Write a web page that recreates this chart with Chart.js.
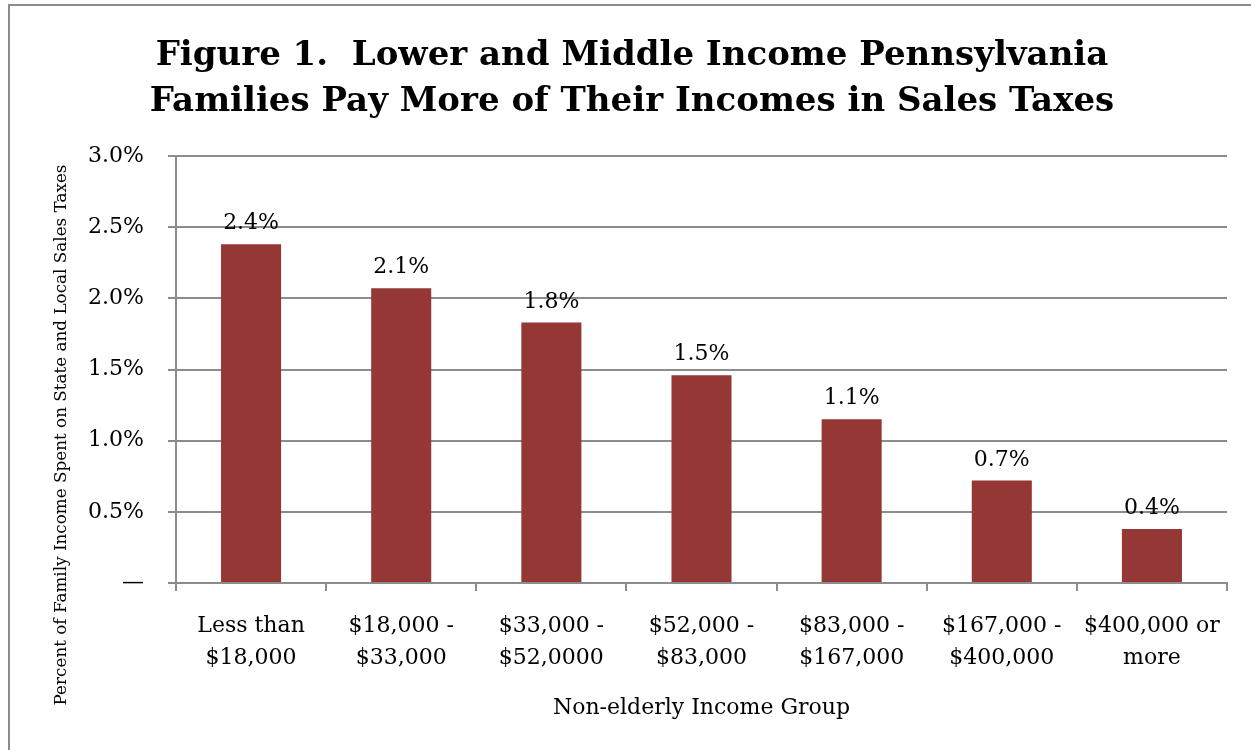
<!DOCTYPE html>
<html>
<head>
<meta charset="utf-8">
<script src="https://cdn.jsdelivr.net/npm/chart.js@4.4.1/dist/chart.umd.min.js"></script>
<style>
  html, body { margin: 0; padding: 0; background: #fff; }
  #wrap { width: 1251px; height: 750px; }
</style>
</head>
<body>
<div id="wrap"><canvas id="salesTaxChart"></canvas></div>
<script>
// data
const incomeGroups = [
    ['Less than', '$18,000'],
    ['$18,000 -', '$33,000'],
    ['$33,000 -', '$52,0000'],
    ['$52,000 -', '$83,000'],
    ['$83,000 -', '$167,000'],
    ['$167,000 -', '$400,000'],
    ['$400,000 or', 'more']
];
const salesTaxShare = [2.38, 2.07, 1.83, 1.46, 1.15, 0.72, 0.38];
const titleLines = ['Figure 1.  Lower and Middle Income Pennsylvania', 'Families Pay More of Their Incomes in Sales Taxes'];
const yAxisTitle = 'Percent of Family Income Spent on State and Local Sales Taxes';
const xAxisTitle = 'Non-elderly Income Group';

const serif = "'DejaVu Serif', serif";

// gray frame around the whole figure
const framePlugin = {
    id: 'frame',
    beforeDraw(chart) {
        const ctx = chart.ctx;
        ctx.save();
        ctx.fillStyle = '#fff';
        ctx.fillRect(0, 0, chart.width, chart.height);
        ctx.strokeStyle = '#8c8c8c';
        ctx.lineWidth = 2;
        ctx.strokeRect(9, 5, chart.width + 20, chart.height + 20);
        ctx.restore();
    }
};

// title, value labels above the bars, rotated y title
const labelPlugin = {
    id: 'barLabels',
    afterDatasetsDraw(chart) {
        const ctx = chart.ctx;
        const meta = chart.getDatasetMeta(0);
        ctx.save();
        ctx.fillStyle = '#000';
        ctx.textAlign = 'center';
        ctx.textBaseline = 'alphabetic';

        ctx.font = 'bold 34px ' + serif;
        ctx.fillText(titleLines[0], 632, 65);
        ctx.fillText(titleLines[1], 632, 111);

        ctx.font = '22px ' + serif;
        meta.data.forEach((bar, i) => {
            ctx.fillText(salesTaxShare[i].toFixed(1) + '%', bar.x, bar.y - 15);
        });

        ctx.font = '16.8px ' + serif;
        ctx.translate(62, 435);
        ctx.rotate(-Math.PI / 2);
        ctx.textBaseline = 'middle';
        ctx.fillText(yAxisTitle, 0, 0);
        ctx.restore();
    }
};

new Chart(document.getElementById('salesTaxChart'), {
    type: 'bar',
    data: {
        labels: incomeGroups,
        datasets: [{
            data: salesTaxShare,
            backgroundColor: '#953735',
            borderWidth: 0,
            barPercentage: 0.4,
            categoryPercentage: 1.0
        }]
    },
    options: {
        responsive: true,
        maintainAspectRatio: false,
        animation: false,
        layout: { padding: { top: 156, right: 24, bottom: 0, left: 0 } },
        plugins: {
            legend: { display: false },
            tooltip: { enabled: false },
            title: { display: false }
        },
        scales: {
            x: {
                grid: {
                    offset: true,
                    drawOnChartArea: false,
                    color: '#8c8c8c',
                    tickLength: 8,
                    lineWidth: 2
                },
                border: { color: '#8c8c8c', width: 2 },
                ticks: {
                    color: '#000',
                    font: { family: serif, size: 22, lineHeight: 1.45 },
                    padding: 19,
                    maxRotation: 0,
                    autoSkip: false
                },
                title: {
                    display: true,
                    text: xAxisTitle,
                    color: '#000',
                    font: { family: serif, size: 22 },
                    padding: { top: 10, bottom: 29 }
                },
                afterFit(scale) { scale.height = 167; }
            },
            y: {
                min: 0,
                max: 3,
                grid: {
                    color: '#8c8c8c',
                    tickLength: 8,
                    lineWidth: 2
                },
                border: { color: '#8c8c8c', width: 2 },
                ticks: {
                    stepSize: 0.5,
                    color: '#000',
                    font: { family: serif, size: 22 },
                    padding: 24,
                    callback: v => v === 0 ? '\u2014' : v.toFixed(1) + '%'
                },
                afterFit(scale) { scale.width = 176; }
            }
        }
    },
    plugins: [framePlugin, labelPlugin]
});
</script>
</body>
</html>
